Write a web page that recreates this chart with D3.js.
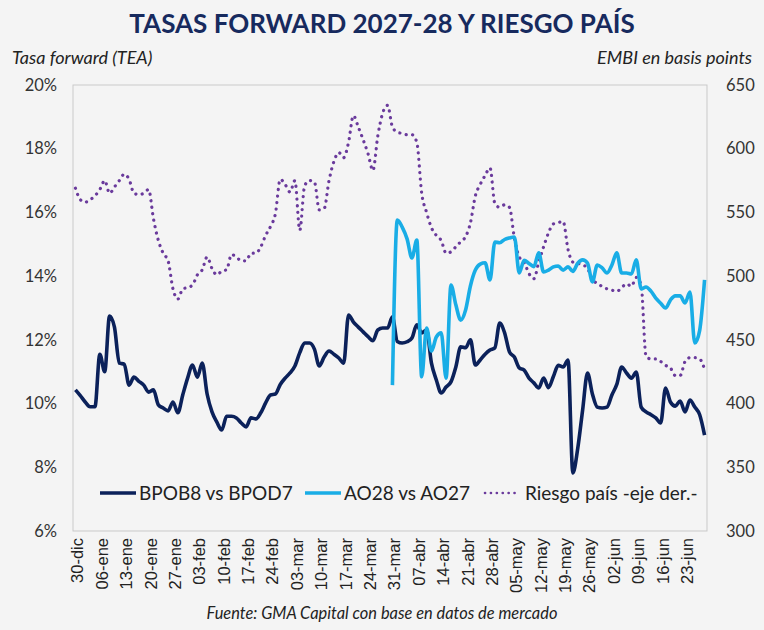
<!DOCTYPE html>
<html>
<head>
<meta charset="utf-8">
<script src="https://cdn.jsdelivr.net/npm/d3@7"></script>
<style>
  body { margin: 0; background: #f4f4f4; }
  svg { display: block; font-family: Lato, "Open Sans", sans-serif; }
</style>
</head>
<body>
<svg id="chart"></svg>
<script>
// business days from 30-dic-2024 to 27-jun-2025 (the sheet's category axis)
const days = d3.timeDay.range(new Date(2024, 11, 30), new Date(2025, 5, 28))
  .filter(d => d.getDay() !== 0 && d.getDay() !== 6)
  .map(d3.timeFormat("%Y-%m-%d"));

const tickLabels = ["30-dic", "06-ene", "13-ene", "20-ene", "27-ene", "03-feb", "10-feb", "17-feb",
  "24-feb", "03-mar", "10-mar", "17-mar", "24-mar", "31-mar", "07-abr", "14-abr", "21-abr",
  "28-abr", "05-may", "12-may", "19-may", "26-may", "02-jun", "09-jun", "16-jun", "23-jun"];

const leftTicks = [6, 8, 10, 12, 14, 16, 18, 20];
const rightTicks = [300, 350, 400, 450, 500, 550, 600, 650];

// BPOB8 vs BPOD7, % (one value per business day)
const bpob8 = [
  10.43, 10.25, 10.05, 9.9, 9.9, 11.55, 11.0, 12.75, 12.4, 11.27,
  11.24, 10.58, 10.83, 10.7, 10.58, 10.36, 10.43, 9.96, 9.86, 9.77,
  10.05, 9.71, 10.27, 10.8, 11.21, 10.83, 11.27, 10.3, 9.74, 9.42,
  9.17, 9.6, 9.6, 9.55, 9.39, 9.27, 9.55, 9.52, 9.71, 10.02,
  10.27, 10.3, 10.6, 10.8, 10.96, 11.18, 11.6, 11.9, 11.9, 11.71,
  11.18, 11.46, 11.65, 11.55, 11.43, 11.27, 12.78, 12.56, 12.4, 12.25,
  12.1, 11.97, 12.31, 12.37, 12.37, 12.72, 11.95, 11.9, 11.94, 12.06,
  12.47, 12.22, 12.31, 11.27, 10.74, 10.33, 10.52, 10.68, 11.15, 11.78,
  11.75, 12.0, 11.21, 11.37, 11.55, 11.68, 11.75, 12.53, 12.22, 11.62,
  11.46, 11.12, 11.05, 10.8, 10.65, 10.49, 10.8, 10.5, 10.85, 11.2,
  11.15, 11.37, 7.82, 8.6, 9.8, 10.96, 10.3, 9.89, 9.86, 9.89,
  10.27, 10.6, 11.15, 10.96, 10.8, 10.99, 9.89, 9.74, 9.65, 9.55,
  9.39, 10.49, 10.05, 9.92, 10.08, 9.74, 10.11, 9.89, 9.65, 9.01
];

// AO28 vs AO27, %, from 31-mar
const ao28Start = "2025-03-31";
const ao28 = [
  10.58, 15.76, 15.54, 15.17, 14.57, 15.13, 10.84, 12.37, 11.65, 12.09,
  12.22, 10.8, 13.72, 13.1, 12.62, 12.94, 13.7, 14.19, 14.38, 14.42,
  13.88, 15.07, 15.05, 15.15, 15.2, 15.23, 14.1, 14.5, 14.4, 14.3,
  14.73, 14.13, 14.19, 14.29, 14.32, 14.19, 14.29, 14.15, 14.41, 14.51,
  14.41, 13.82, 14.35, 14.26, 14.1, 14.35, 14.73, 14.1, 14.1, 14.07,
  14.51, 13.6, 13.66, 13.53, 13.31, 13.15, 13.0, 13.25, 13.38, 13.38,
  13.16, 13.5, 11.9, 12.3, 13.88
];

// Riesgo pais (EMBI), basis points
const embi = [
  569, 560, 558, 560, 563, 568, 575, 565, 570, 575,
  580, 576, 565, 564, 565, 568, 545, 528, 518, 512,
  490, 482, 490, 491, 493, 501, 505, 515, 506, 501,
  504, 505, 517, 515, 512, 512, 518, 518, 523, 532,
  539, 549, 576, 572, 566, 575, 536, 571, 575, 574,
  552, 553, 575, 590, 597, 593, 605, 626, 617, 607,
  596, 583, 610, 628, 634, 617, 613, 612, 611, 611,
  605, 565, 550, 538, 532, 528, 518, 519, 523, 527,
  531, 542, 563, 572, 579, 585, 557, 554, 556, 554,
  530, 515, 511, 502, 498, 511, 523, 534, 541, 542,
  543, 521, 511, 510, 509, 506, 498, 494, 492, 490,
  489, 488, 491, 494, 492, 499, 493, 437, 435, 435,
  433, 430, 428, 422, 422, 433, 436, 436, 435, 427
];

const W = 764, H = 630;
const plot = { left: 73, right: 707, top: 85, bottom: 531 };
const navy = "#0b215a", sky = "#19ade6", purple = "#6a3a9c";

const svg = d3.select("#chart").attr("width", W).attr("height", H);
svg.append("rect").attr("width", W).attr("height", H).attr("fill", "#f4f4f4");

const x = d3.scaleBand().domain(days).range([plot.left, plot.right]);
const xc = d => x(d) + x.bandwidth() / 2;
const yL = d3.scaleLinear().domain([6, 20]).range([plot.bottom, plot.top]);
const yR = d3.scaleLinear().domain([300, 650]).range([plot.bottom, plot.top]);

// titles
svg.append("text").attr("x", W / 2).attr("y", 33).attr("text-anchor", "middle")
  .attr("font-size", 26).attr("font-weight", 700).attr("fill", "#172a5e")
  .text("TASAS FORWARD 2027-28 Y RIESGO PAÍS");
svg.append("text").attr("x", 12).attr("y", 64).attr("font-size", 18)
  .attr("font-style", "italic").attr("fill", "#222").text("Tasa forward (TEA)");
svg.append("text").attr("x", 752).attr("y", 64).attr("text-anchor", "end").attr("font-size", 18)
  .attr("font-style", "italic").attr("fill", "#222").text("EMBI en basis points");

// plot frame
svg.append("rect").attr("x", plot.left).attr("y", plot.top)
  .attr("width", plot.right - plot.left).attr("height", plot.bottom - plot.top)
  .attr("fill", "none").attr("stroke", "#c9c9c9").attr("stroke-width", 1);

// axes
const gL = svg.append("g").attr("transform", `translate(${plot.left},0)`)
  .call(d3.axisLeft(yL).tickValues(leftTicks).tickSize(0).tickPadding(16).tickFormat(d => d + "%"));
const gR = svg.append("g").attr("transform", `translate(${plot.right},0)`)
  .call(d3.axisRight(yR).tickValues(rightTicks).tickSize(0).tickPadding(19));
[gL, gR].forEach(g => {
  g.select(".domain").remove();
  g.selectAll("text").attr("font-family", "Lato, sans-serif").attr("font-size", 16.5).attr("fill", "#333");
});

const gX = svg.append("g").attr("transform", `translate(2,${plot.bottom})`)
  .call(d3.axisBottom(x).tickValues(days.filter((d, i) => i % 5 === 0))
    .tickSize(0).tickFormat((d, i) => tickLabels[i]));
gX.select(".domain").remove();
gX.selectAll("text")
  .attr("font-family", "'Liberation Sans', Arial, sans-serif").attr("font-size", 16.5).attr("fill", "#222")
  .attr("text-anchor", "end").attr("transform", "rotate(-90)")
  .attr("x", -7).attr("y", 0).attr("dy", "0.36em");

// series
const line = (yScale) => d3.line().x(d => xc(d[0])).y(d => yScale(d[1])).curve(d3.curveMonotoneX);

const bpobData = days.map((d, i) => [d, bpob8[i]]);
const aoOffset = days.indexOf(ao28Start);
const aoData = ao28.map((v, i) => [days[aoOffset + i], v]);
const embiData = days.map((d, i) => [d, embi[i]]);

svg.append("path").datum(embiData).attr("d", line(yR)).attr("fill", "none")
  .attr("stroke", purple).attr("stroke-width", 3.2).attr("stroke-linecap", "round")
  .attr("stroke-dasharray", "0.1 6.4");
svg.append("path").datum(bpobData).attr("d", line(yL)).attr("fill", "none")
  .attr("stroke", navy).attr("stroke-width", 3.6).attr("stroke-linejoin", "round");
svg.append("path").datum(aoData).attr("d", line(yL)).attr("fill", "none")
  .attr("stroke", sky).attr("stroke-width", 3.6).attr("stroke-linejoin", "round");

// legend
const legend = [
  { label: "BPOB8 vs BPOD7", color: navy, x: 100, dash: null },
  { label: "AO28 vs AO27", color: sky, x: 305, dash: null },
  { label: "Riesgo país -eje der.-", color: purple, x: 485, dash: "0.1 5.8" }
];
const lg = svg.append("g").selectAll("g").data(legend).join("g")
  .attr("transform", d => `translate(${d.x},493)`);
lg.append("line").attr("x1", 0).attr("x2", d => d.dash ? 33 : 36)
  .attr("stroke", d => d.color).attr("stroke-width", d => d.dash ? 2.6 : 3.4)
  .attr("stroke-linecap", d => d.dash ? "round" : "butt").attr("stroke-dasharray", d => d.dash);
lg.append("text").attr("x", d => d.dash ? 40 : 39).attr("y", 7).attr("font-size", 19)
  .attr("fill", "#222").text(d => d.label);

// source
svg.append("text").attr("x", 382).attr("y", 619).attr("text-anchor", "middle")
  .attr("font-size", 16.4).attr("font-style", "italic").attr("fill", "#222")
  .text("Fuente: GMA Capital con base en datos de mercado");
</script>
</body>
</html>
